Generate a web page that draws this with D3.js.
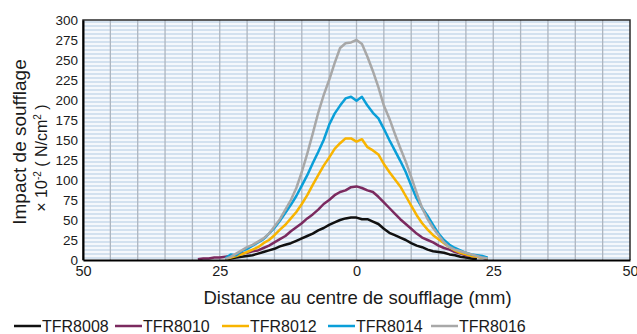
<!DOCTYPE html>
<html>
<head>
<meta charset="utf-8">
<script src="https://cdn.jsdelivr.net/npm/d3@7"></script>
<style>
	body { margin: 0; background: #fff; }
	text { font-family: 'Liberation Sans', Arial, sans-serif; fill: #1a1a1a; }
</style>
</head>
<body>
<div id="grafico"></div>
<script>
// Impact de soufflage - profils TFR
const distances = [-29,-28,-27,-26,-25,-24,-23,-22,-21,-20,-19,-18,-17,-16,-15,-14,-13,-12,-11,-10,-9,-8,-7,-6,-5,-4,-3,-2,-1,0,1,2,3,4,5,6,7,8,9,10,11,12,13,14,15,16,17,18,19,20,21,22,23,24];

const tfr8008 = [null,null,null,null,null,1,2,3,4,5,6,8,10,12,14,17,19,21,24,27,30,33,37,40,44,47,50,52,53,53,51,51,48,45,39,34,31,28,25,21,18,16,13,11,10,9,7,6,4,3,2,1,null,null];
const tfr8010 = [1,2,2,3,3,4,5,6,8,9,11,12,15,18,22,26,30,36,41,46,52,57,63,70,75,81,85,87,91,92,90,87,85,79,72,65,58,51,45,39,33,28,25,22,18,15,13,10,8,6,5,4,3,1];
const tfr8012 = [null,null,null,null,null,1,3,5,7,10,13,16,21,25,31,38,44,52,60,70,81,94,106,118,128,139,146,152,152,148,151,141,137,132,120,110,101,92,80,68,56,46,38,31,26,21,16,12,9,7,5,4,3,2];
const tfr8014 = [null,null,null,null,null,2,7,6,11,14,18,22,26,33,40,49,59,69,80,93,106,121,135,150,169,183,193,202,204,199,204,193,184,177,164,150,137,124,110,93,77,65,55,44,33,25,19,15,12,9,7,6,5,3];
const tfr8016 = [null,null,null,null,null,1,4,8,12,16,19,23,27,33,42,51,63,75,90,110,133,158,184,206,225,246,265,271,272,275,270,254,236,216,193,177,158,140,123,104,84,65,51,40,31,22,16,13,11,9,7,5,3,2];

const series = [
	{ nom: 'TFR8008', valeurs: tfr8008, couleur: '#111111' },
	{ nom: 'TFR8010', valeurs: tfr8010, couleur: '#7b2a5f' },
	{ nom: 'TFR8012', valeurs: tfr8012, couleur: '#f8b400' },
	{ nom: 'TFR8014', valeurs: tfr8014, couleur: '#0a9fd8' },
	{ nom: 'TFR8016', valeurs: tfr8016, couleur: '#a8a8a8' }
];

const xTicks = [-50, -25, 0, 25, 50];
const yTicks = [0, 25, 50, 75, 100, 125, 150, 175, 200, 225, 250, 275, 300];

const width = 637;
const height = 334;
const m = { left: 83, right: 630, top: 20, bottom: 260 };

const svg = d3.select('#grafico')
	.append('svg')
	.attr('width', width)
	.attr('height', height);

const x = d3.scaleLinear().domain([-50, 50]).range([m.left, m.right]);
const y = d3.scaleLinear().domain([0, 300]).range([m.bottom, m.top]);

// fond de la zone de tracé
svg.append('rect')
	.attr('x', m.left).attr('y', m.top)
	.attr('width', m.right - m.left).attr('height', m.bottom - m.top)
	.attr('fill', '#f5f8fc');

// rayures horizontales (tous les 5)
svg.append('g')
	.selectAll('line')
	.data(d3.range(2.5, 300, 5))
	.enter()
	.append('line')
	.attr('x1', m.left).attr('x2', m.right)
	.attr('y1', d => y(d)).attr('y2', d => y(d))
	.attr('stroke', '#d3e1ef')
	.attr('stroke-width', 2);

// grille verticale (tous les 5 mm)
svg.append('g')
	.selectAll('line')
	.data(d3.range(-45, 50, 5))
	.enter()
	.append('line')
	.attr('x1', d => x(d)).attr('x2', d => x(d))
	.attr('y1', m.top).attr('y2', m.bottom)
	.attr('stroke', '#aeb6c0')
	.attr('stroke-width', 1.3);

// cadre
svg.append('path')
	.attr('d', `M${m.left},${m.bottom}V${m.top}H${m.right}V${m.bottom}`)
	.attr('fill', 'none')
	.attr('stroke', '#2a2a2a')
	.attr('stroke-width', 1.5);

// courbes
const ligne = d3.line()
	.defined(d => d[1] !== null)
	.x(d => x(d[0]))
	.y(d => y(d[1]));

svg.append('g')
	.selectAll('path')
	.data(series)
	.enter()
	.append('path')
	.attr('d', s => ligne(distances.map((dx, i) => [dx, s.valeurs[i]])))
	.attr('fill', 'none')
	.attr('stroke', s => s.couleur)
	.attr('stroke-width', 2.5)
	.attr('stroke-linejoin', 'round');

// axe Y
const axeY = d3.axisLeft(y).tickValues(yTicks).tickSize(0).tickPadding(5);
svg.append('g')
	.attr('transform', `translate(${m.left},0)`)
	.call(axeY)
	.call(g => g.select('.domain').attr('stroke', '#000').attr('stroke-width', 2))
	.call(g => g.selectAll('text').attr('font-size', '13.5px').attr('fill', '#1a1a1a').attr('font-family', null));

// axe X
const axeX = d3.axisBottom(x).tickValues(xTicks).tickSize(0).tickPadding(6)
	.tickFormat(d => Math.abs(d));
svg.append('g')
	.attr('transform', `translate(0,${m.bottom})`)
	.call(axeX)
	.call(g => g.select('.domain').attr('stroke', '#000').attr('stroke-width', 2))
	.call(g => g.selectAll('text').attr('font-size', '14.5px').attr('fill', '#1a1a1a').attr('font-family', null));

// titres
svg.append('text')
	.attr('x', (m.left + m.right) / 2 + 1)
	.attr('y', 304)
	.attr('text-anchor', 'middle')
	.attr('font-size', '18.5px')
	.text('Distance au centre de soufflage (mm)');

const titreY = svg.append('g').attr('transform', 'rotate(-90)');
titreY.append('text')
	.attr('x', -142)
	.attr('y', 26)
	.attr('text-anchor', 'middle')
	.attr('font-size', '19px')
	.text('Impact de soufflage');

const t2 = titreY.append('text')
	.attr('x', -158)
	.attr('y', 47)
	.attr('text-anchor', 'middle')
	.attr('font-size', '16px');
t2.append('tspan').text('× 10');
t2.append('tspan').attr('dy', -6).attr('font-size', '10px').text('-2');
t2.append('tspan').attr('dy', 6).text(' ( N/cm');
t2.append('tspan').attr('dy', -6).attr('font-size', '10px').text('2');
t2.append('tspan').attr('dy', 6).text(' )');

// légende
const legX = [14, 115, 222, 328, 431];
const leg = svg.append('g')
	.selectAll('g')
	.data(series)
	.enter()
	.append('g')
	.attr('transform', (d, i) => `translate(${legX[i]},326)`);

leg.append('line')
	.attr('x1', 0).attr('x2', 27)
	.attr('stroke', d => d.couleur)
	.attr('stroke-width', 2.5);

leg.append('text')
	.attr('x', 28)
	.attr('y', 6)
	.attr('font-size', '16px')
	.text(d => d.nom);
</script>
</body>
</html>
